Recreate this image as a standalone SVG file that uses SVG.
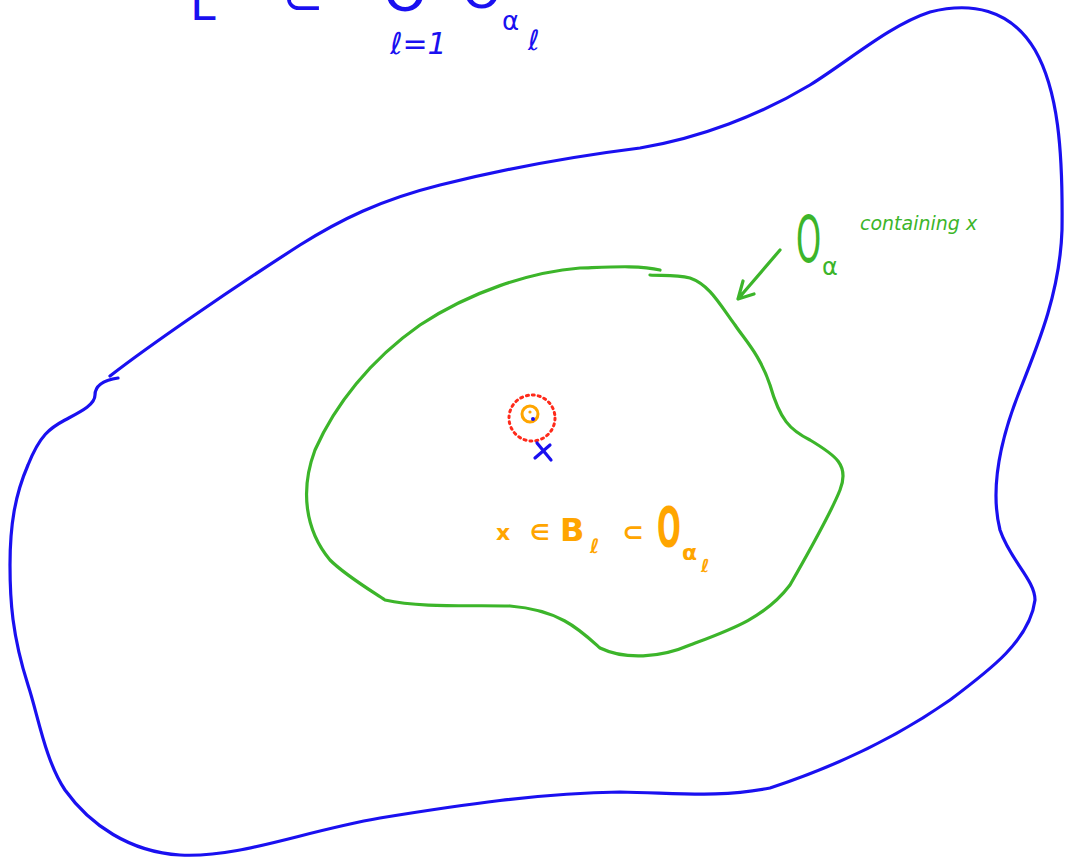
<svg xmlns="http://www.w3.org/2000/svg" width="1065" height="859" viewBox="0 0 1065 859">
<style>
.blue{fill:none;stroke:#1a10f0;stroke-width:3.2;stroke-linecap:round;stroke-linejoin:round}
.green{fill:none;stroke:#3cb52a;stroke-width:3.2;stroke-linecap:round;stroke-linejoin:round}
.tb{fill:#1a10f0;font-family:"DejaVu Sans",sans-serif}
.tg{fill:#3cb52a;font-family:"DejaVu Sans",sans-serif}
.to{fill:#ffa500;font-family:"DejaVu Sans",sans-serif;font-weight:bold}
</style>
<rect width="1065" height="859" fill="#fff"/>
<g id="outer-set">
<path class="blue" d="M110,376 C150,345 230,290 300,245 C340,220 380,200 440,185 C500,170 560,158 640,148 C700,138 760,115 810,85 C850,60 890,25 930,12 C970,2 1010,8 1035,50 C1058,90 1063,150 1062,230 C1060,290 1040,340 1020,390 C1000,440 990,490 1000,530 C1010,560 1035,580 1035,600 C1030,640 990,670 950,700 C900,735 840,765 770,788 C720,798 680,793 620,792 C540,793 460,805 380,818 C300,832 240,858 180,855 C130,852 90,825 65,790 C45,760 38,715 28,685 C12,635 10,600 10,565 C10,525 15,495 28,465 C40,435 50,428 65,420 C80,412 95,405 95,395 C95,385 105,380 118,378"/>
</g>
<g id="open-set">
<path class="green" d="M660,270 C640,265 610,267 580,268 C530,272 470,292 420,325 C370,360 335,405 315,450 C300,490 305,530 330,560 C345,575 370,590 385,600 C420,608 470,605 510,606 C560,610 580,630 600,648 C625,660 660,658 690,645 C730,630 765,618 790,585 C810,550 830,515 840,490 C850,465 835,455 810,440 C790,430 780,420 770,385 C760,355 745,340 735,325 C720,305 710,285 690,278 C675,274 660,276 650,275"/>
<path class="green" d="M780,250 L738,299 M743,281 L738,299 L754,294"/>
</g>
<g id="ball">
<circle cx="532" cy="418" r="23" fill="none" stroke="#ff2a1a" stroke-width="3" stroke-dasharray="2 4" stroke-linecap="round"/>
<circle cx="530" cy="414" r="8" fill="none" stroke="#ffa500" stroke-width="3"/>
<circle cx="530" cy="412" r="1.6" fill="#ffa500"/>
<circle cx="533" cy="419" r="2" fill="#1a10f0"/>
</g>
<g id="point-x">
<path class="blue" d="M537,443 L551,460 M550,445 L535,458"/>
</g>
<g id="top-formula">
<text class="tb" x="190" y="20" font-size="46">L</text>
<text class="tb" x="282" y="14" font-size="50">⊂</text>
<text class="tb" x="383" y="10" font-size="56">O</text>
<text class="tb" x="462" y="8" font-size="50">O</text>
<text class="tb" x="502" y="30" font-size="26">α</text>
<text class="tb" x="390" y="54" font-size="30" font-style="italic">ℓ=1</text>
<text class="tb" x="528" y="50" font-size="28" font-style="italic">ℓ</text>
</g>
<g id="label-O-alpha">
<text class="tg" x="0" y="0" font-size="64" transform="translate(796,262) scale(0.5,1)">O</text>
<text class="tg" x="822" y="275" font-size="24">α</text>
<text class="tg" x="860" y="230" font-size="19" font-style="italic">containing x</text>
</g>
<g id="label-ball">
<text class="to" x="496" y="540" font-size="22">x</text>
<text class="to" x="530" y="540" font-size="22">∈</text>
<text class="to" x="560" y="541" font-size="32">B</text>
<text class="to" x="590" y="553" font-size="20" font-style="italic">ℓ</text>
<text class="to" x="622" y="541" font-size="26">⊂</text>
<text class="to" x="0" y="0" font-size="56" transform="translate(657,546) scale(0.5,1)">O</text>
<text class="to" x="682" y="560" font-size="22">α</text>
<text class="to" x="701" y="572" font-size="18" font-style="italic">ℓ</text>
</g>
</svg>
